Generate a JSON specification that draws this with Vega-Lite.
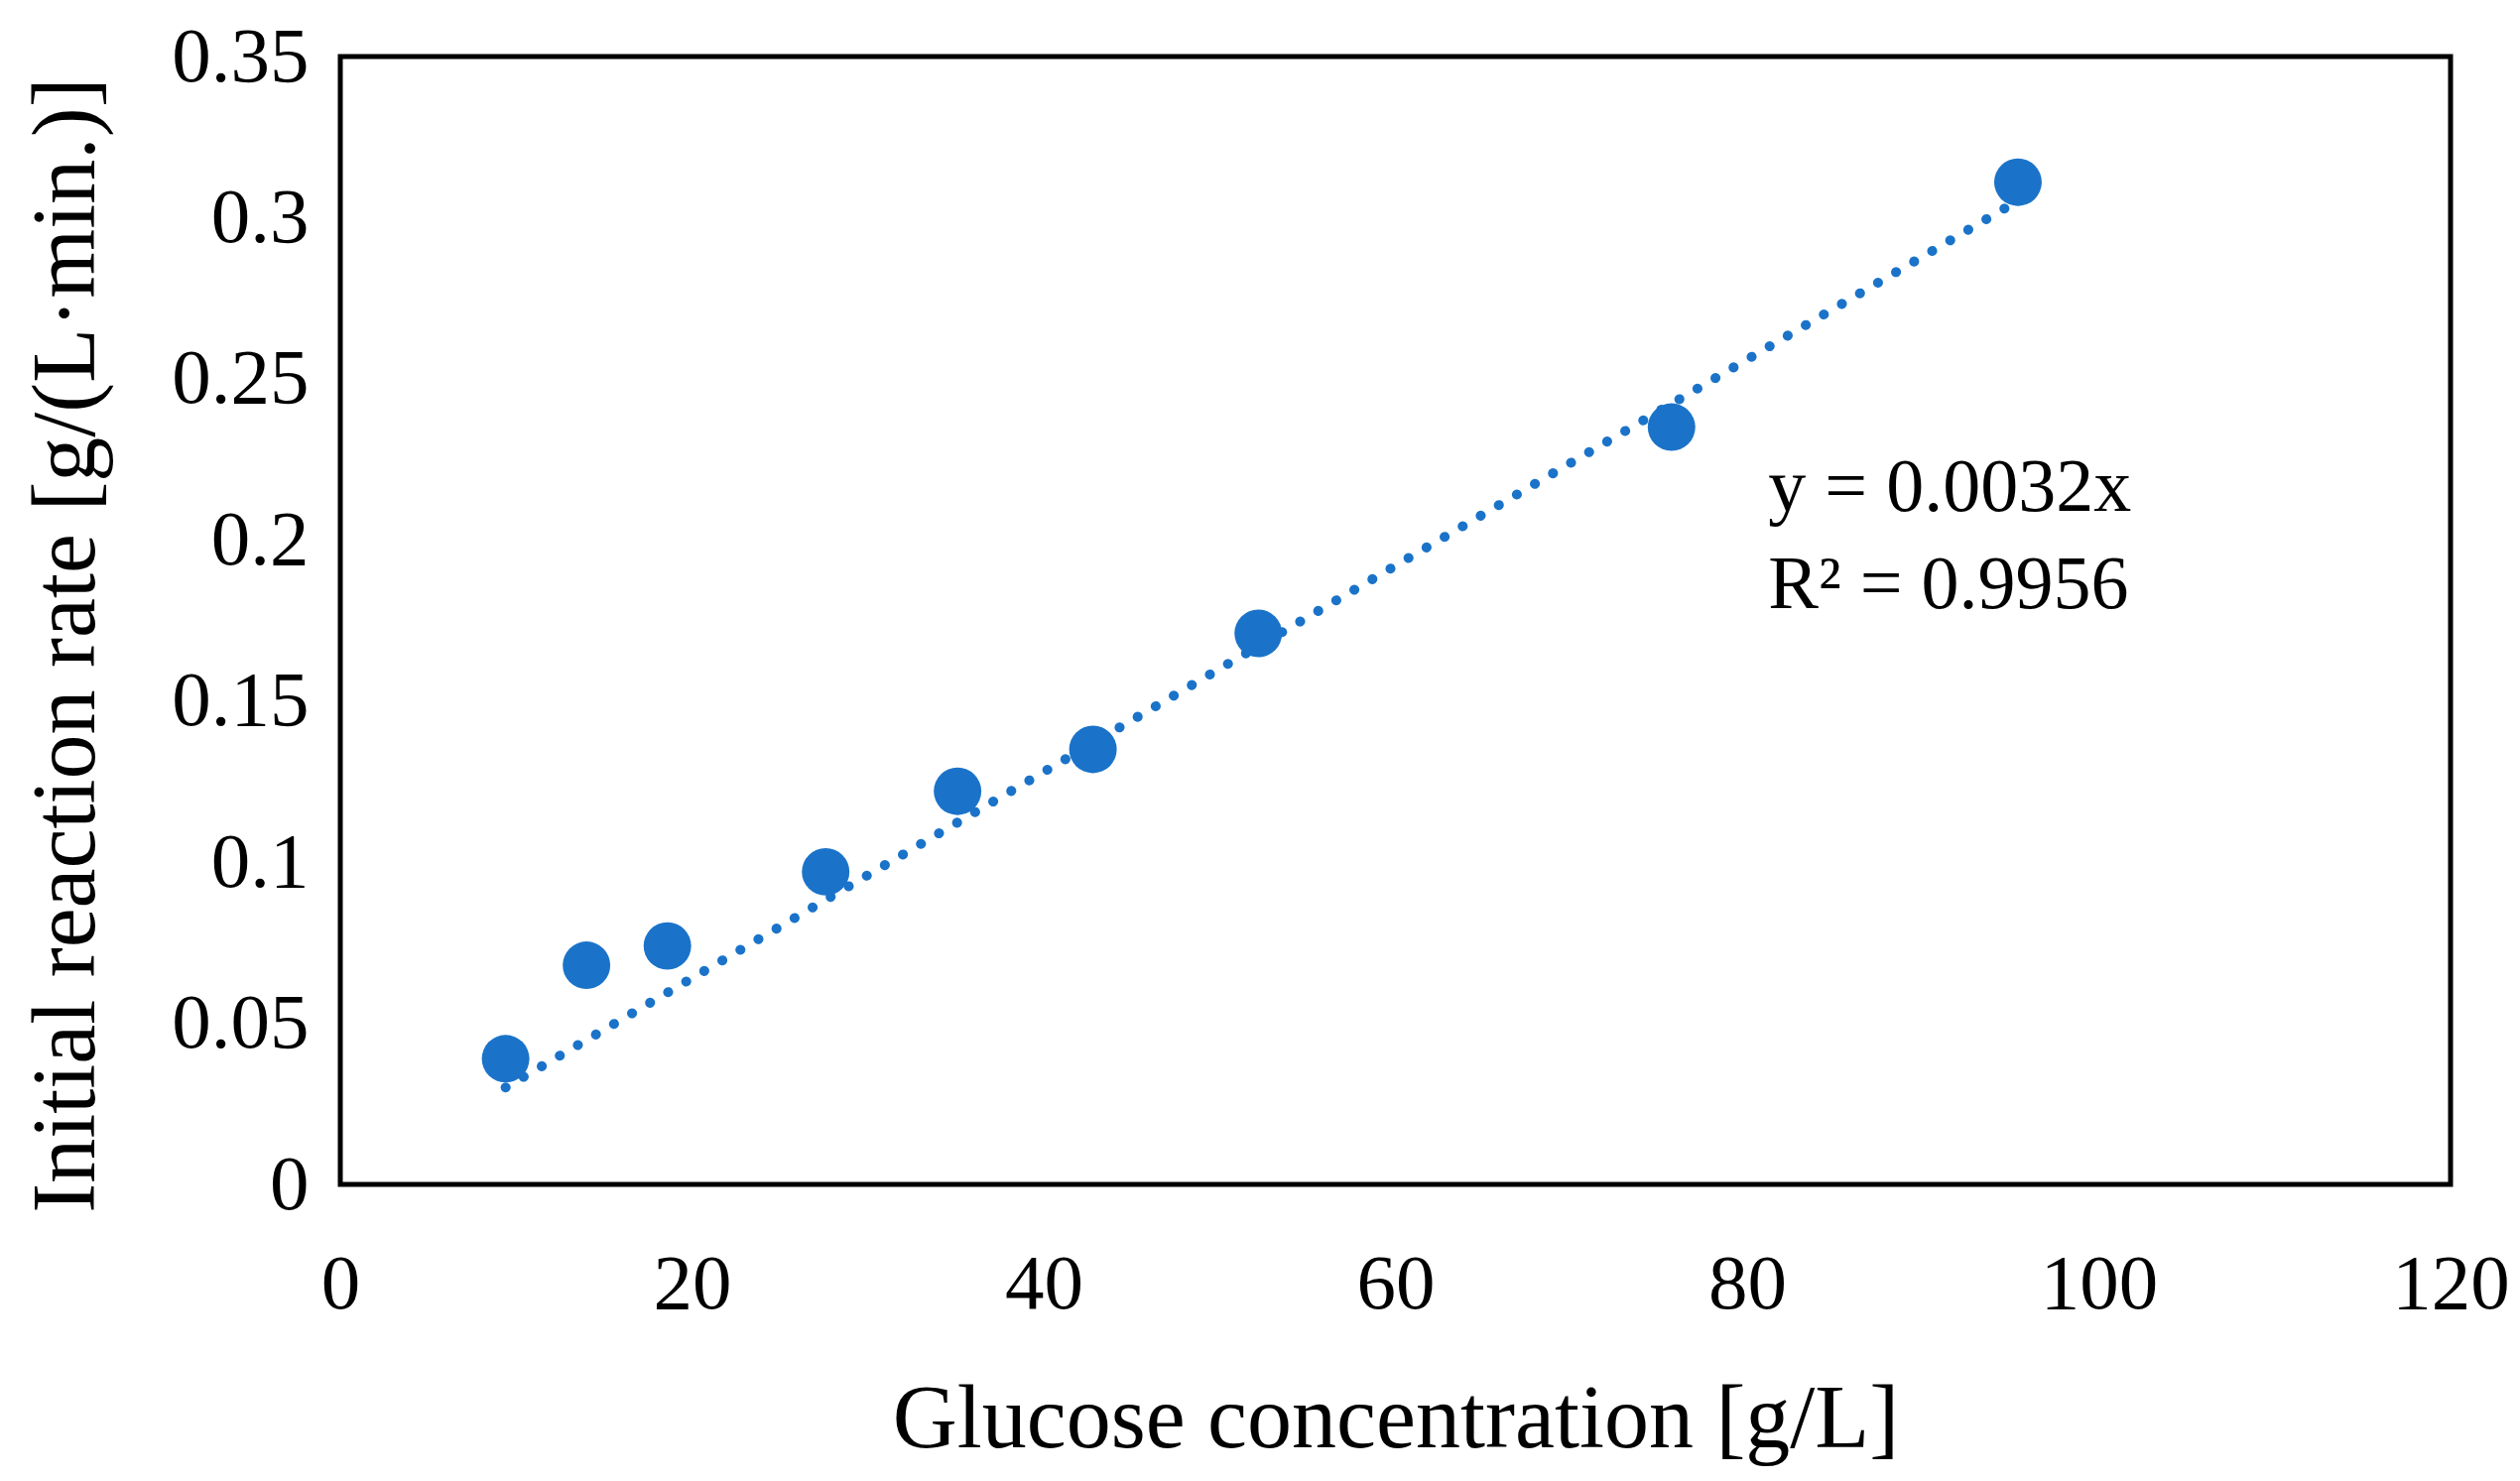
{
  "$schema": "https://vega.github.io/schema/vega-lite/v6.json",
  "width": 2127,
  "height": 1137,
  "autosize": {"type": "none"},
  "padding": {"left": 343, "top": 57, "right": 70, "bottom": 299},
  "background": "white",
  "config": {
    "view": {"stroke": "black", "strokeWidth": 5},
    "font": "Liberation Serif",
    "axis": {
      "grid": false, "ticks": false, "tickSize": 0, "domain": false, "labelFlush": false,
      "labelFont": "Liberation Serif", "labelFontSize": 79, "labelColor": "black",
      "titleFont": "Liberation Serif", "titleFontSize": 90, "titleFontWeight": "normal", "titleColor": "black"
    }
  },
  "layer": [
    {
      "data": {"values": [
        {"glucose": 9.4, "trend": 0.03008},
        {"glucose": 95.4, "trend": 0.30528}
      ]},
      "mark": {"type": "line", "color": "#1A73C9", "strokeWidth": 10, "strokeCap": "round", "strokeDash": [0.1, 21]},
      "encoding": {
        "x": {"field": "glucose", "type": "quantitative", "scale": {"domain": [0, 120], "nice": false},
              "axis": {"values": [0, 20, 40, 60, 80, 100, 120], "labelPadding": 62, "title": "Glucose concentration [g/L]", "titleBaseline": "alphabetic", "titleY": 264, "titleAnchor": "middle"}},
        "y": {"field": "trend", "type": "quantitative", "scale": {"domain": [0, 0.35], "nice": false},
              "axis": {"values": [0, 0.05, 0.1, 0.15, 0.2, 0.25, 0.3, 0.35], "labelPadding": 32, "labelExpr": "datum.value == 0 ? '0' : format(datum.value, '.2~f')", "title": "Initial reaction rate [g/(L·min.)]", "titleBaseline": "alphabetic", "titleX": -249, "titleY": 593, "titleAnchor": "middle"}}
      }
    },
    {
      "data": {"values": [
        {"glucose": 9.4, "rate": 0.039},
        {"glucose": 14.0, "rate": 0.068},
        {"glucose": 18.6, "rate": 0.074},
        {"glucose": 27.6, "rate": 0.097},
        {"glucose": 35.1, "rate": 0.122},
        {"glucose": 42.8, "rate": 0.135},
        {"glucose": 52.2, "rate": 0.171},
        {"glucose": 75.7, "rate": 0.235},
        {"glucose": 95.4, "rate": 0.311}
      ]},
      "mark": {"type": "circle", "color": "#1A73C9", "opacity": 1, "size": 2300},
      "encoding": {
        "x": {"field": "glucose", "type": "quantitative"},
        "y": {"field": "rate", "type": "quantitative"}
      }
    },
    {
      "data": {"values": [
        {"label": "y = 0.0032x", "glucose": 81.2, "rate": 0.2089},
        {"label": "R² = 0.9956", "glucose": 81.2, "rate": 0.179}
      ]},
      "mark": {"type": "text", "align": "left", "baseline": "alphabetic", "font": "Liberation Serif", "fontSize": 76, "color": "black"},
      "encoding": {
        "x": {"field": "glucose", "type": "quantitative"},
        "y": {"field": "rate", "type": "quantitative"},
        "text": {"field": "label"}
      }
    }
  ]
}
